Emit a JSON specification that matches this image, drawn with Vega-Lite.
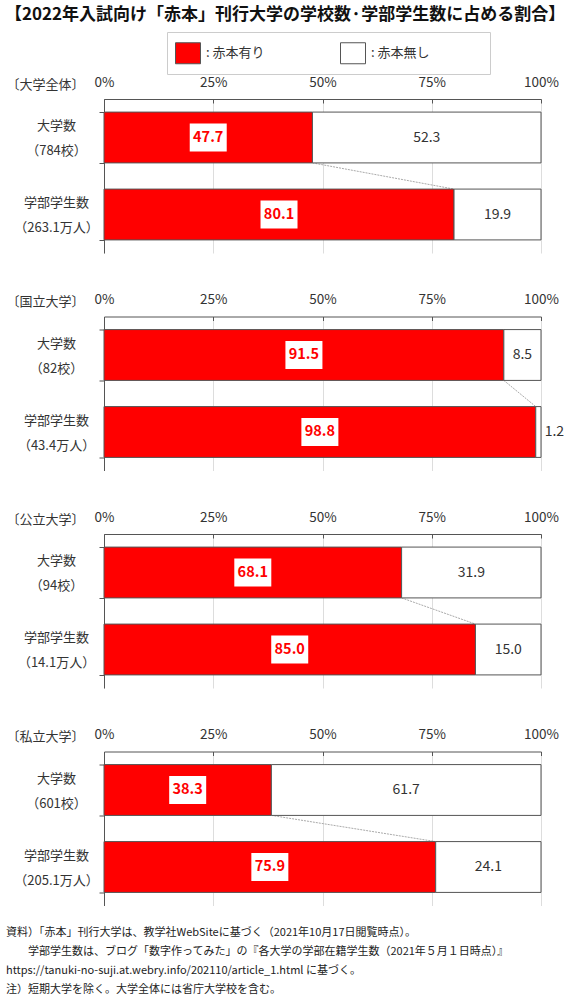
{
  "$schema": "https://vega.github.io/schema/vega-lite/v6.json",
  "padding": {"left": 4, "right": 4, "top": 5, "bottom": 2},
  "title": {
    "text": "【2022年入試向け「赤本」刊行大学の学校数·学部学生数に占める割合】",
    "fontSize": 17,
    "fontWeight": "bold",
    "color": "#111",
    "anchor": "middle",
    "frame": "bounds",
    "offset": 8
  },
  "datasets": {
    "main": [
      {"g": "〔大学全体〕", "k": "大学数", "label": "大学数\n（784校）", "aka": 47.7, "nashi": 52.3},
      {"g": "〔大学全体〕", "k": "学部学生数", "label": "学部学生数\n（263.1万人）", "aka": 80.1, "nashi": 19.9},
      {"g": "〔国立大学〕", "k": "大学数", "label": "大学数\n（82校）", "aka": 91.5, "nashi": 8.5},
      {"g": "〔国立大学〕", "k": "学部学生数", "label": "学部学生数\n（43.4万人）", "aka": 98.8, "nashi": 1.2},
      {"g": "〔公立大学〕", "k": "大学数", "label": "大学数\n（94校）", "aka": 68.1, "nashi": 31.9},
      {"g": "〔公立大学〕", "k": "学部学生数", "label": "学部学生数\n（14.1万人）", "aka": 85.0, "nashi": 15.0},
      {"g": "〔私立大学〕", "k": "大学数", "label": "大学数\n（601校）", "aka": 38.3, "nashi": 61.7},
      {"g": "〔私立大学〕", "k": "学部学生数", "label": "学部学生数\n（205.1万人）", "aka": 75.9, "nashi": 24.1}
    ]
  },
  "spacing": 39.5,
  "vconcat": [
    {
      "width": 437, "height": 154,
      "data": {"name": "main"},
      "transform": [{"filter": "datum.g == '〔大学全体〕'"}],
      "layer": [
        {
          "transform": [{"pivot": "k", "value": "aka", "groupby": ["g"]}],
          "mark": {"type": "rule", "color": "#aaa", "strokeWidth": 1, "strokeDash": [2, 1]},
          "encoding": {
            "x": {"field": "大学数", "type": "quantitative", "scale": {"domain": [0, 100]}, "axis": null},
            "x2": {"field": "学部学生数"},
            "y": {"datum": "大学数\n（784校）", "type": "nominal", "bandPosition": 1},
            "y2": {"datum": "学部学生数\n（263.1万人）", "bandPosition": 0}
          }
        },
        {
          "transform": [{"fold": ["aka", "nashi"], "as": ["kind", "v"]}],
          "mark": {"type": "bar", "stroke": "#555", "strokeWidth": 1},
          "encoding": {
            "y": {
              "field": "label", "type": "nominal", "sort": null,
              "scale": {"paddingInner": 0.34, "paddingOuter": 0.17},
              "axis": {
                "title": "〔大学全体〕", "titleAngle": 0, "titleX": -98, "titleY": -15,
                "titleAlign": "left", "titleBaseline": "middle", "titleFontSize": 13,
                "titleFontWeight": "normal", "titleColor": "#333",
                "labelExpr": "split(datum.label, '\\n')", "labelAlign": "center",
                "labelBaseline": "middle", "labelPadding": 43, "labelLineHeight": 25,
                "labelOffset": -12, "labelFontSize": 13, "labelColor": "#333", "labelLimit": 0,
                "tickBand": "extent", "tickSize": 5, "tickColor": "#555", "domainColor": "#555"
              }
            },
            "x": {
              "field": "v", "type": "quantitative", "stack": "zero",
              "scale": {"domain": [0, 100]},
              "axis": {
                "orient": "top", "title": null, "values": [0, 25, 50, 75, 100],
                "labelExpr": "datum.value + '%'", "labelFontSize": 13.5, "labelColor": "#333",
                "labelPadding": 14, "tickSize": -4, "tickColor": "#555", "domainColor": "#555",
                "grid": true, "gridColor": "#ddd", "labelFlush": false
              }
            },
            "fill": {
              "field": "kind", "type": "nominal",
              "scale": {"domain": ["aka", "nashi"], "range": ["#ff0000", "#ffffff"]},
              "legend": {
                "orient": "none", "legendX": 63, "legendY": -67, "direction": "horizontal",
                "title": null, "symbolType": "M-1,-0.84L1,-0.84L1,0.84L-1,0.84Z", "symbolSize": 625,
                "symbolStrokeColor": "#555", "symbolStrokeWidth": 1, "symbolOpacity": 1,
                "labelExpr": "datum.label == 'aka' ? ': 赤本有り' : ': 赤本無し\u3000\u3000\u3000\u3000\u200B'",
                "labelFontSize": 13, "labelColor": "#333", "labelOffset": 5,
                "columnPadding": 73, "strokeColor": "#ccc", "fillColor": "white", "padding": 8
              }
            }
          }
        },
        {
          "mark": {"type": "point", "shape": "M-1,-0.76L1,-0.76L1,0.76L-1,0.76Z", "size": 1369, "filled": true, "fill": "white", "opacity": 1, "strokeWidth": 0},
          "encoding": {
            "x": {"field": "aka", "type": "quantitative", "scale": {"domain": [0, 200]}, "axis": null},
            "y": {"field": "label", "type": "nominal", "sort": null}
          }
        },
        {
          "mark": {"type": "text", "color": "#ff0000", "fontWeight": "bold", "fontSize": 14.5},
          "encoding": {
            "x": {"field": "aka", "type": "quantitative", "scale": {"domain": [0, 200]}, "axis": null},
            "y": {"field": "label", "type": "nominal", "sort": null},
            "text": {"field": "aka", "type": "quantitative", "format": ".1f"}
          }
        },
        {
          "mark": {"type": "text", "color": "#333", "fontSize": 14, "dx": {"expr": "datum.nashi < 5 ? 16 : 0"}},
          "encoding": {
            "x": {"field": "nashi", "type": "quantitative", "scale": {"domain": [0, 200], "reverse": true}, "axis": null},
            "y": {"field": "label", "type": "nominal", "sort": null},
            "text": {"field": "nashi", "type": "quantitative", "format": ".1f"}
          }
        }
      ],
      "resolve": {"scale": {"x": "independent"}}
    },
    {
      "width": 437, "height": 154,
      "data": {"name": "main"},
      "transform": [{"filter": "datum.g == '〔国立大学〕'"}],
      "layer": [
        {
          "transform": [{"pivot": "k", "value": "aka", "groupby": ["g"]}],
          "mark": {"type": "rule", "color": "#aaa", "strokeWidth": 1, "strokeDash": [2, 1]},
          "encoding": {
            "x": {"field": "大学数", "type": "quantitative", "scale": {"domain": [0, 100]}, "axis": null},
            "x2": {"field": "学部学生数"},
            "y": {"datum": "大学数\n（82校）", "type": "nominal", "bandPosition": 1},
            "y2": {"datum": "学部学生数\n（43.4万人）", "bandPosition": 0}
          }
        },
        {
          "transform": [{"fold": ["aka", "nashi"], "as": ["kind", "v"]}],
          "mark": {"type": "bar", "stroke": "#555", "strokeWidth": 1},
          "encoding": {
            "y": {
              "field": "label", "type": "nominal", "sort": null,
              "scale": {"paddingInner": 0.34, "paddingOuter": 0.17},
              "axis": {
                "title": "〔国立大学〕", "titleAngle": 0, "titleX": -98, "titleY": -15,
                "titleAlign": "left", "titleBaseline": "middle", "titleFontSize": 13,
                "titleFontWeight": "normal", "titleColor": "#333",
                "labelExpr": "split(datum.label, '\\n')", "labelAlign": "center",
                "labelBaseline": "middle", "labelPadding": 43, "labelLineHeight": 25,
                "labelOffset": -12, "labelFontSize": 13, "labelColor": "#333", "labelLimit": 0,
                "tickBand": "extent", "tickSize": 5, "tickColor": "#555", "domainColor": "#555"
              }
            },
            "x": {
              "field": "v", "type": "quantitative", "stack": "zero",
              "scale": {"domain": [0, 100]},
              "axis": {
                "orient": "top", "title": null, "values": [0, 25, 50, 75, 100],
                "labelExpr": "datum.value + '%'", "labelFontSize": 13.5, "labelColor": "#333",
                "labelPadding": 14, "tickSize": -4, "tickColor": "#555", "domainColor": "#555",
                "grid": true, "gridColor": "#ddd", "labelFlush": false
              }
            },
            "fill": {
              "field": "kind", "type": "nominal",
              "scale": {"domain": ["aka", "nashi"], "range": ["#ff0000", "#ffffff"]},
              "legend": null
            }
          }
        },
        {
          "mark": {"type": "point", "shape": "M-1,-0.76L1,-0.76L1,0.76L-1,0.76Z", "size": 1369, "filled": true, "fill": "white", "opacity": 1, "strokeWidth": 0},
          "encoding": {
            "x": {"field": "aka", "type": "quantitative", "scale": {"domain": [0, 200]}, "axis": null},
            "y": {"field": "label", "type": "nominal", "sort": null}
          }
        },
        {
          "mark": {"type": "text", "color": "#ff0000", "fontWeight": "bold", "fontSize": 14.5},
          "encoding": {
            "x": {"field": "aka", "type": "quantitative", "scale": {"domain": [0, 200]}, "axis": null},
            "y": {"field": "label", "type": "nominal", "sort": null},
            "text": {"field": "aka", "type": "quantitative", "format": ".1f"}
          }
        },
        {
          "mark": {"type": "text", "color": "#333", "fontSize": 14, "dx": {"expr": "datum.nashi < 5 ? 16 : 0"}},
          "encoding": {
            "x": {"field": "nashi", "type": "quantitative", "scale": {"domain": [0, 200], "reverse": true}, "axis": null},
            "y": {"field": "label", "type": "nominal", "sort": null},
            "text": {"field": "nashi", "type": "quantitative", "format": ".1f"}
          }
        }
      ],
      "resolve": {"scale": {"x": "independent"}}
    },
    {
      "width": 437, "height": 154,
      "data": {"name": "main"},
      "transform": [{"filter": "datum.g == '〔公立大学〕'"}],
      "layer": [
        {
          "transform": [{"pivot": "k", "value": "aka", "groupby": ["g"]}],
          "mark": {"type": "rule", "color": "#aaa", "strokeWidth": 1, "strokeDash": [2, 1]},
          "encoding": {
            "x": {"field": "大学数", "type": "quantitative", "scale": {"domain": [0, 100]}, "axis": null},
            "x2": {"field": "学部学生数"},
            "y": {"datum": "大学数\n（94校）", "type": "nominal", "bandPosition": 1},
            "y2": {"datum": "学部学生数\n（14.1万人）", "bandPosition": 0}
          }
        },
        {
          "transform": [{"fold": ["aka", "nashi"], "as": ["kind", "v"]}],
          "mark": {"type": "bar", "stroke": "#555", "strokeWidth": 1},
          "encoding": {
            "y": {
              "field": "label", "type": "nominal", "sort": null,
              "scale": {"paddingInner": 0.34, "paddingOuter": 0.17},
              "axis": {
                "title": "〔公立大学〕", "titleAngle": 0, "titleX": -98, "titleY": -15,
                "titleAlign": "left", "titleBaseline": "middle", "titleFontSize": 13,
                "titleFontWeight": "normal", "titleColor": "#333",
                "labelExpr": "split(datum.label, '\\n')", "labelAlign": "center",
                "labelBaseline": "middle", "labelPadding": 43, "labelLineHeight": 25,
                "labelOffset": -12, "labelFontSize": 13, "labelColor": "#333", "labelLimit": 0,
                "tickBand": "extent", "tickSize": 5, "tickColor": "#555", "domainColor": "#555"
              }
            },
            "x": {
              "field": "v", "type": "quantitative", "stack": "zero",
              "scale": {"domain": [0, 100]},
              "axis": {
                "orient": "top", "title": null, "values": [0, 25, 50, 75, 100],
                "labelExpr": "datum.value + '%'", "labelFontSize": 13.5, "labelColor": "#333",
                "labelPadding": 14, "tickSize": -4, "tickColor": "#555", "domainColor": "#555",
                "grid": true, "gridColor": "#ddd", "labelFlush": false
              }
            },
            "fill": {
              "field": "kind", "type": "nominal",
              "scale": {"domain": ["aka", "nashi"], "range": ["#ff0000", "#ffffff"]},
              "legend": null
            }
          }
        },
        {
          "mark": {"type": "point", "shape": "M-1,-0.76L1,-0.76L1,0.76L-1,0.76Z", "size": 1369, "filled": true, "fill": "white", "opacity": 1, "strokeWidth": 0},
          "encoding": {
            "x": {"field": "aka", "type": "quantitative", "scale": {"domain": [0, 200]}, "axis": null},
            "y": {"field": "label", "type": "nominal", "sort": null}
          }
        },
        {
          "mark": {"type": "text", "color": "#ff0000", "fontWeight": "bold", "fontSize": 14.5},
          "encoding": {
            "x": {"field": "aka", "type": "quantitative", "scale": {"domain": [0, 200]}, "axis": null},
            "y": {"field": "label", "type": "nominal", "sort": null},
            "text": {"field": "aka", "type": "quantitative", "format": ".1f"}
          }
        },
        {
          "mark": {"type": "text", "color": "#333", "fontSize": 14, "dx": {"expr": "datum.nashi < 5 ? 16 : 0"}},
          "encoding": {
            "x": {"field": "nashi", "type": "quantitative", "scale": {"domain": [0, 200], "reverse": true}, "axis": null},
            "y": {"field": "label", "type": "nominal", "sort": null},
            "text": {"field": "nashi", "type": "quantitative", "format": ".1f"}
          }
        }
      ],
      "resolve": {"scale": {"x": "independent"}}
    },
    {
      "width": 437, "height": 154,
      "title": {
        "text": [
          "資料）「赤本」刊行大学は、教学社WebSiteに基づく（2021年10月17日閲覧時点）。",
          "\u200B\u3000\u3000学部学生数は、ブログ「数字作ってみた」の『各大学の学部在籍学生数（2021年５月１日時点）』",
          "https://tanuki-no-suji.at.webry.info/202110/article_1.html に基づく。",
          "注）短期大学を除く。大学全体には省庁大学校を含む。"
        ],
        "orient": "bottom", "anchor": "start", "frame": "bounds",
        "fontSize": 11, "fontWeight": "normal", "color": "#222",
        "lineHeight": 19, "offset": 21
      },
      "data": {"name": "main"},
      "transform": [{"filter": "datum.g == '〔私立大学〕'"}],
      "layer": [
        {
          "transform": [{"pivot": "k", "value": "aka", "groupby": ["g"]}],
          "mark": {"type": "rule", "color": "#aaa", "strokeWidth": 1, "strokeDash": [2, 1]},
          "encoding": {
            "x": {"field": "大学数", "type": "quantitative", "scale": {"domain": [0, 100]}, "axis": null},
            "x2": {"field": "学部学生数"},
            "y": {"datum": "大学数\n（601校）", "type": "nominal", "bandPosition": 1},
            "y2": {"datum": "学部学生数\n（205.1万人）", "bandPosition": 0}
          }
        },
        {
          "transform": [{"fold": ["aka", "nashi"], "as": ["kind", "v"]}],
          "mark": {"type": "bar", "stroke": "#555", "strokeWidth": 1},
          "encoding": {
            "y": {
              "field": "label", "type": "nominal", "sort": null,
              "scale": {"paddingInner": 0.34, "paddingOuter": 0.17},
              "axis": {
                "title": "〔私立大学〕", "titleAngle": 0, "titleX": -98, "titleY": -15,
                "titleAlign": "left", "titleBaseline": "middle", "titleFontSize": 13,
                "titleFontWeight": "normal", "titleColor": "#333",
                "labelExpr": "split(datum.label, '\\n')", "labelAlign": "center",
                "labelBaseline": "middle", "labelPadding": 43, "labelLineHeight": 25,
                "labelOffset": -12, "labelFontSize": 13, "labelColor": "#333", "labelLimit": 0,
                "tickBand": "extent", "tickSize": 5, "tickColor": "#555", "domainColor": "#555"
              }
            },
            "x": {
              "field": "v", "type": "quantitative", "stack": "zero",
              "scale": {"domain": [0, 100]},
              "axis": {
                "orient": "top", "title": null, "values": [0, 25, 50, 75, 100],
                "labelExpr": "datum.value + '%'", "labelFontSize": 13.5, "labelColor": "#333",
                "labelPadding": 14, "tickSize": -4, "tickColor": "#555", "domainColor": "#555",
                "grid": true, "gridColor": "#ddd", "labelFlush": false
              }
            },
            "fill": {
              "field": "kind", "type": "nominal",
              "scale": {"domain": ["aka", "nashi"], "range": ["#ff0000", "#ffffff"]},
              "legend": null
            }
          }
        },
        {
          "mark": {"type": "point", "shape": "M-1,-0.76L1,-0.76L1,0.76L-1,0.76Z", "size": 1369, "filled": true, "fill": "white", "opacity": 1, "strokeWidth": 0},
          "encoding": {
            "x": {"field": "aka", "type": "quantitative", "scale": {"domain": [0, 200]}, "axis": null},
            "y": {"field": "label", "type": "nominal", "sort": null}
          }
        },
        {
          "mark": {"type": "text", "color": "#ff0000", "fontWeight": "bold", "fontSize": 14.5},
          "encoding": {
            "x": {"field": "aka", "type": "quantitative", "scale": {"domain": [0, 200]}, "axis": null},
            "y": {"field": "label", "type": "nominal", "sort": null},
            "text": {"field": "aka", "type": "quantitative", "format": ".1f"}
          }
        },
        {
          "mark": {"type": "text", "color": "#333", "fontSize": 14, "dx": {"expr": "datum.nashi < 5 ? 16 : 0"}},
          "encoding": {
            "x": {"field": "nashi", "type": "quantitative", "scale": {"domain": [0, 200], "reverse": true}, "axis": null},
            "y": {"field": "label", "type": "nominal", "sort": null},
            "text": {"field": "nashi", "type": "quantitative", "format": ".1f"}
          }
        }
      ],
      "resolve": {"scale": {"x": "independent"}}
    }
  ],
  "resolve": {"scale": {"fill": "independent"}, "legend": {"fill": "independent"}},
  "config": {
    "view": {"stroke": null},
    "font": "Noto Sans CJK JP"
  }
}
